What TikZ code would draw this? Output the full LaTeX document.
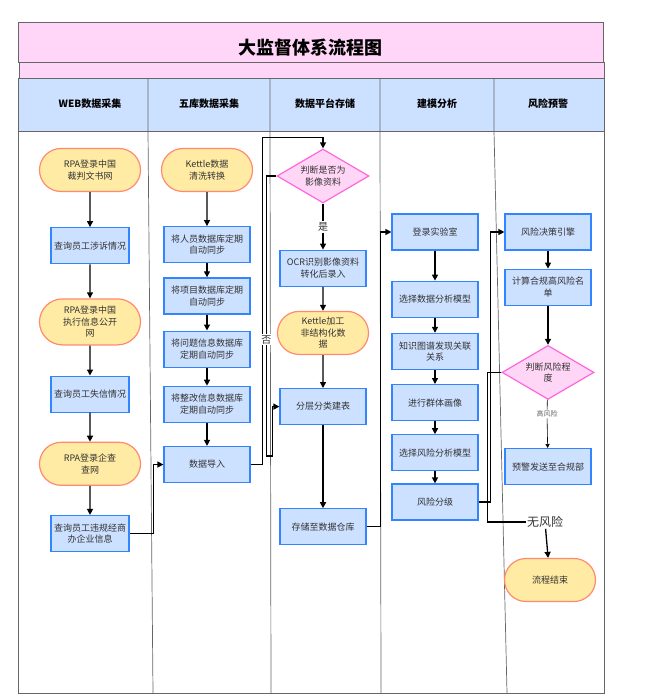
\documentclass[tikz,border=0pt]{standalone}
\usepackage{fontspec}
\setmainfont{Noto Sans CJK SC}
\usetikzlibrary{positioning,shapes.geometric,shapes.misc,arrows.meta}

\definecolor{procfill}{HTML}{CCE0FF}
\definecolor{procline}{HTML}{3385FF}
\definecolor{termfill}{HTML}{FFEBA3}
\definecolor{termline}{HTML}{FF8A70}
\definecolor{judgefill}{HTML}{FFD6F5}
\definecolor{judgeline}{HTML}{FF66DD}
\definecolor{titlefill}{HTML}{FFD6F7}
\definecolor{laneline}{HTML}{666666}
\definecolor{txt}{HTML}{333333}

\begin{document}
\begin{tikzpicture}[x=1pt,y=-1pt,
	every node/.style={font=\fontsize{9}{11.5}\selectfont, text=txt},
	proc/.style={draw=procline, fill=procfill, line width=1.2pt, minimum width=86pt,
		minimum height=36pt, align=center, inner sep=2pt},
	webproc/.style={proc, minimum width=78pt},
	term/.style={rounded rectangle, draw=termline, fill=termfill, line width=1.2pt,
		minimum width=95pt, minimum height=43pt, align=center, inner sep=2pt},
	webterm/.style={term, minimum width=105pt},
	judge/.style={diamond, draw=judgeline, fill=judgefill, line width=1.2pt, aspect=1.7,
		minimum width=92pt, minimum height=54pt, align=center, inner sep=0pt},
	head/.style={font=\fontsize{10}{12}\selectfont\bfseries, text=black},
	lane/.style={draw=laneline, line width=0.7pt},
	flow/.style={line width=1.3pt, -{Triangle[length=6pt,width=6pt]}},
	thin/.style={line width=0.6pt, -{Triangle[length=4pt,width=4pt]}},
	lbl/.style={font=\fontsize{10}{12}\selectfont, fill=white, inner sep=1pt}
	]
	\useasboundingbox (0,0) rectangle (646,700);

	% title and lane headers
	\draw[lane, fill=titlefill] (18,22) rectangle (603,62);
	\node[font=\fontsize{18}{20}\selectfont\bfseries, text=black] (title) at (310,48) {大监督体系流程图};
	\draw[lane, fill=titlefill] (19,62) rectangle (604,78);
	\draw[lane, fill=procfill] (18,78) rectangle (604,131);
	\draw[lane] (18,131) rectangle (604,693);
	\draw[lane] (148,78) -- (148,131) -- (153,693);
	\draw[lane] (270,78) -- (270,131) -- (271,693);
	\draw[lane] (380,78) -- (380,131) -- (381,693);
	\draw[lane] (494,78) -- (494,131) -- (507,693);
	\node[head] (h1) at (90,104) {WEB数据采集};
	\node[head] (h2) at (209,104) {五库数据采集};
	\node[head] (h3) at (325,104) {数据平台存储};
	\node[head] (h4) at (437,104) {建模分析};
	\node[head] (h5) at (548,104) {风险预警};

	% WEB数据采集
	\node[webterm] (w1) at (90,170) {RPA登录中国\\裁判文书网};
	\node[webproc, below=35pt of w1] (w2) {查询员工涉诉情况};
	\node[webterm, minimum height=46pt, below=34pt of w2] (w3) {RPA登录中国\\执行信息公开\\网};
	\node[webproc, below=30pt of w3] (w4) {查询员工失信情况};
	\node[webterm, below=29pt of w4] (w5) {RPA登录企查\\查网};
	\node[webproc, below=29pt of w5] (w6) {查询员工违规经商\\办企业信息};

	% 五库数据采集
	\node[term] (k1) at (207,170) {Kettle数据\\清洗转换};
	\node[proc, below=34pt of k1] (k2) {将人员数据库定期\\自动同步};
	\node[proc, below=14pt of k2] (k3) {将项目数据库定期\\自动同步};
	\node[proc, below=16pt of k3] (k4) {将问题信息数据库\\定期自动同步};
	\node[proc, below=18pt of k4] (k5) {将整改信息数据库\\定期自动同步};
	\node[proc, below=23pt of k5] (k6) {数据导入};

	% 数据平台存储
	\node[judge] (p1) at (323,176) {判断是否为\\影像资料};
	\node[lbl] (yes) at (323,227) {是};
	\node[proc, below=46pt of p1] (p2) {OCR识别影像资料\\转化后录入};
	\node[term, below=24pt of p2] (p3) {Kettle加工\\非结构化数\\据};
	\node[proc, below=33pt of p3] (p4) {分层分类建表};
	\node[proc, below=83pt of p4] (p5) {存储至数据仓库};

	% 建模分析
	\node[proc] (m1) at (435,232) {登录实验室};
	\node[proc, below=30pt of m1] (m2) {选择数据分析模型};
	\node[proc, below=15pt of m2] (m3) {知识图谱发现关联\\关系};
	\node[proc, below=14pt of m3] (m4) {进行群体画像};
	\node[proc, below=13pt of m4] (m5) {选择风险分析模型};
	\node[proc, below=12pt of m5] (m6) {风险分级};

	% 风险预警
	\node[proc] (r1) at (548,232) {风险决策引擎};
	\node[proc, below=18pt of r1] (r2) {计算合规高风险名\\单};
	\node[judge, below=39pt of r2] (r3) {判断风险程\\度};
	\node[font=\fontsize{7}{9}\selectfont, text=laneline, fill=white, inner sep=1pt] (high) at (547,414) {高风险};
	\node[proc, below=48pt of r3] (r4) {预警发送至合规部};
	\node[font=\fontsize{12}{14}\selectfont, fill=white, inner sep=1pt] (none) at (545,522) {无风险};
	\node[term] (r5) at (550,580) {流程结束};

	% connectors
	\draw[flow] (w1) -- (w2);
	\draw[flow] (w2) -- (w3);
	\draw[flow] (w3) -- (w4);
	\draw[flow] (w4) -- (w5);
	\draw[flow] (w5) -- (w6);
	\draw[flow] (w6.east) -- ++(24pt,0) |- (k6.west);

	\draw[flow] (k1) -- (k2);
	\draw[flow] (k2) -- (k3);
	\draw[flow] (k3) -- (k4);
	\draw[flow] (k4) -- (k5);
	\draw[flow] (k5) -- (k6);
	\draw[flow] (k6.east) -- ++(12pt,0) |- ([yshift=11pt]p1.north) -- (p1.north);

	\draw[line width=1.3pt] (p1) -- (yes);
	\draw[flow] (yes) -- (p2);
	\draw[flow] (p1.west) -- ++(-10pt,0)
		-- node[lbl, pos=0.585] (no) {否} ++(0,-280pt) -- ++(6pt,0) |- (p4.west);
	\draw[flow] (p2) -- (p3);
	\draw[flow] (p3) -- (p4);
	\draw[flow] (p4) -- (p5);
	\draw[flow] (p5.east) -- ++(14pt,0) |- (m1.west);

	\draw[flow] (m1) -- (m2);
	\draw[flow] (m2) -- (m3);
	\draw[flow] (m3) -- (m4);
	\draw[flow] (m4) -- (m5);
	\draw[flow] (m5) -- (m6);
	\draw[flow] (m6.east) -- ++(12pt,0) |- (r1.west);

	\draw[flow] (r1) -- (r2);
	\draw[flow] (r2) -- (r3);
	\draw[line width=0.6pt] (r3) -- (high);
	\draw[thin] (high) -- (r4);
	\draw[line width=1.3pt] (r3.west) -- ++(-14pt,0) |- (none.west);
	\draw[flow] (none) -- (r5);
\end{tikzpicture}
\end{document}
